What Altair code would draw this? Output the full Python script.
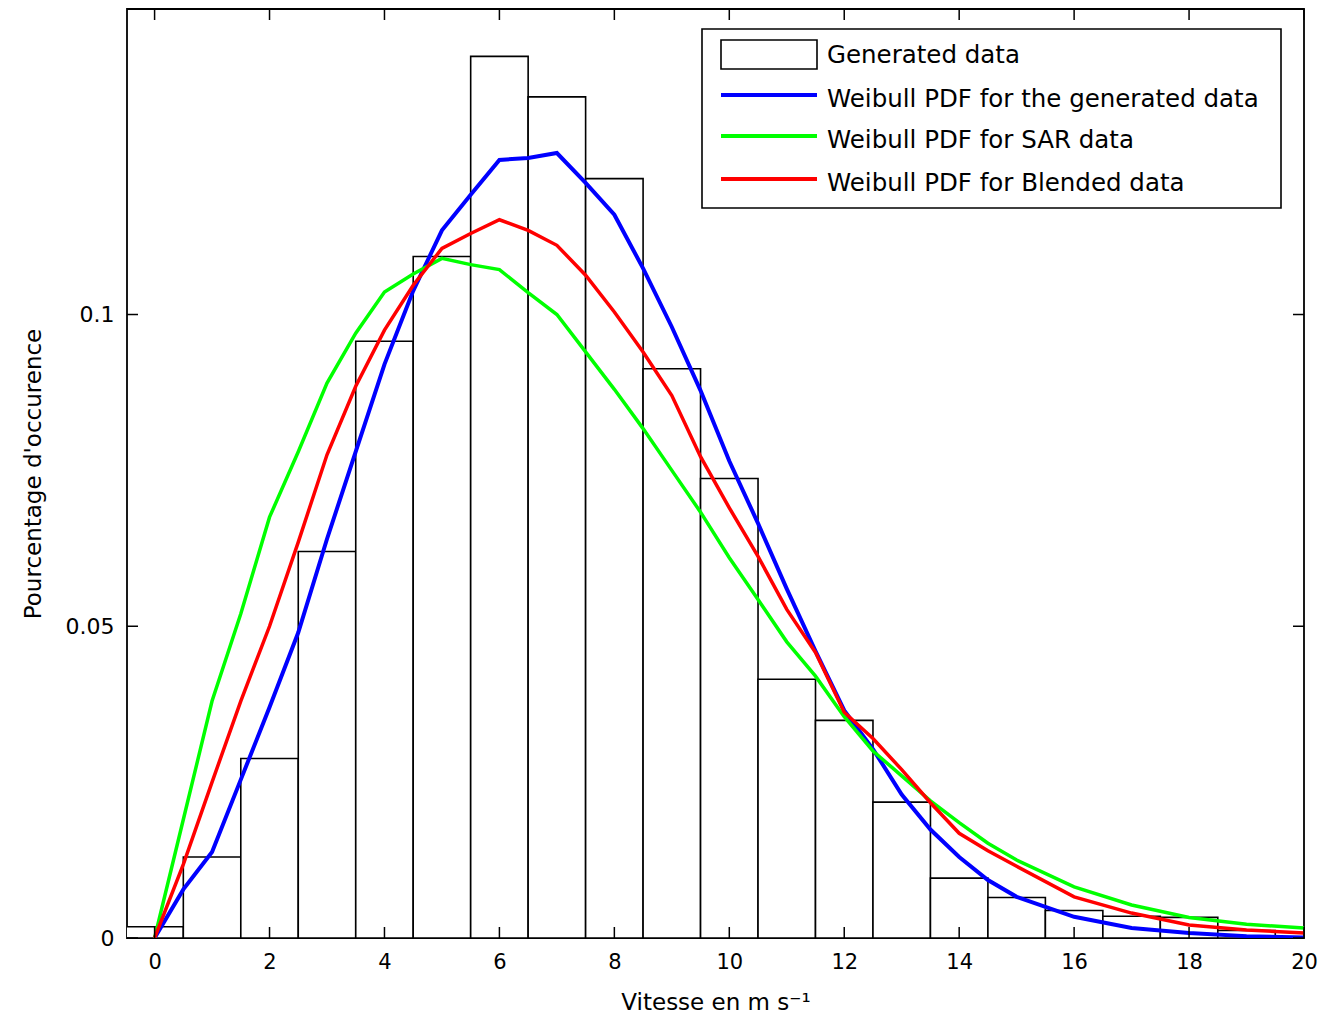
import altair as alt
import pandas as pd

# ---------------- data ----------------
bin_centers = [0, 1, 2, 3, 4, 5, 6, 7, 8, 9, 10, 11, 12, 13, 14, 15, 16, 17, 18, 19]
bin_heights = [0.0018, 0.0130, 0.0288, 0.0620, 0.0957, 0.1093, 0.1414, 0.1349,
               0.1218, 0.0913, 0.0737, 0.0415, 0.0349, 0.0218, 0.0096, 0.0065,
               0.0044, 0.0035, 0.0033, 0.0012]

curve_x = [0, 0.5, 1, 1.5, 2, 2.5, 3, 3.5, 4, 4.5, 5, 5.5, 6, 6.5, 7, 7.5, 8, 8.5,
           9, 9.5, 10, 10.5, 11, 11.5, 12, 12.5, 13, 13.5, 14, 14.5, 15, 16, 17, 18, 19, 20]

blue_y = [0, 0.0078, 0.0138, 0.0254, 0.0370, 0.0490, 0.0640, 0.0780, 0.0920, 0.1038,
          0.1135, 0.1192, 0.1248, 0.1251, 0.1259, 0.1211, 0.1160, 0.1074, 0.0980,
          0.0878, 0.0765, 0.0665, 0.0560, 0.0460, 0.0365, 0.0303, 0.0230, 0.0174,
          0.0130, 0.0093, 0.0066, 0.0034, 0.0016, 0.0008, 0.0003, 0.0001]

green_y = [0, 0.0190, 0.0380, 0.0520, 0.0675, 0.0780, 0.0890, 0.0970, 0.1036, 0.1065,
           0.1090, 0.1080, 0.1072, 0.1035, 0.1000, 0.0940, 0.0880, 0.0817, 0.0750,
           0.0683, 0.0610, 0.0543, 0.0475, 0.0420, 0.0355, 0.0300, 0.0260, 0.0220,
           0.0185, 0.0152, 0.0125, 0.0082, 0.0053, 0.0033, 0.0022, 0.0016]

red_y = [0, 0.0118, 0.0250, 0.0380, 0.0500, 0.0635, 0.0775, 0.0885, 0.0975, 0.1047,
         0.1106, 0.1130, 0.1152, 0.1135, 0.1111, 0.1063, 0.1004, 0.0940, 0.0870,
         0.0772, 0.0690, 0.0612, 0.0527, 0.0458, 0.0362, 0.0320, 0.0270, 0.0217,
         0.0168, 0.0140, 0.0115, 0.0066, 0.0040, 0.0021, 0.0013, 0.0008]

x_ticks = [0, 2, 4, 6, 8, 10, 12, 14, 16, 18, 20]
y_ticks = [0, 0.05, 0.1]

legend_labels = ["Generated data", "Weibull PDF for the generated data",
                 "Weibull PDF for SAR data", "Weibull PDF for Blended data"]

FONT = "DejaVu Sans"
W, H = 1177, 929
XDOM = [-0.48, 20]
YDOM = [0, 0.149]

xs = alt.Scale(domain=XDOM, nice=False, zero=False)
ys = alt.Scale(domain=YDOM, nice=False, zero=True)

bars = pd.DataFrame({
    "left": [c - 0.5 for c in bin_centers],
    "right": [c + 0.5 for c in bin_centers],
    "h": bin_heights,
})

hist = alt.Chart(bars).mark_rect(fill="white", stroke="black", strokeWidth=1.6, clip=True).encode(
    x=alt.X("left:Q", scale=xs,
            axis=alt.Axis(values=x_ticks, title="Vitesse en m s⁻¹", grid=False, ticks=False,
                          domain=False, labelFont=FONT, labelFontSize=21, labelColor="black",
                          labelPadding=13, format="d", titleFont=FONT, titleFontSize=23,
                          titleFontWeight="normal", titleColor="black", titlePadding=19,
                          labelFlush=False)),
    x2="right:Q",
    y=alt.Y("h:Q", scale=ys,
            axis=alt.Axis(values=y_ticks, title="Pourcentage d'occurence", grid=False,
                          ticks=False, domain=False, labelFont=FONT, labelFontSize=22,
                          labelColor="black", labelPadding=13,
                          labelExpr="datum.value == 0 ? '0' : format(datum.value, '.2~f')",
                          titleFont=FONT, titleFontSize=23, titleFontWeight="normal",
                          titleColor="black", titlePadding=20)),
    y2=alt.datum(0),
)


def curve(vals, color, width):
    df = pd.DataFrame({"x": curve_x, "y": vals})
    return alt.Chart(df).mark_line(color=color, strokeWidth=width, clip=True).encode(
        x=alt.X("x:Q", scale=xs), y=alt.Y("y:Q", scale=ys))


blue = curve(blue_y, "#0000ff", 4)
green = curve(green_y, "#00ff00", 3.5)
red = curve(red_y, "#ff0000", 3.5)

xt = pd.DataFrame({"x": x_ticks})
yt = pd.DataFrame({"y": y_ticks})
tick_style = dict(color="black", strokeWidth=1.5)
xt_bot = alt.Chart(xt).mark_rule(**tick_style).encode(
    x=alt.X("x:Q", scale=xs), y=alt.value(H), y2=alt.value(H - 11))
xt_top = alt.Chart(xt).mark_rule(**tick_style).encode(
    x=alt.X("x:Q", scale=xs), y=alt.value(0), y2=alt.value(11))
yt_left = alt.Chart(yt).mark_rule(**tick_style).encode(
    y=alt.Y("y:Q", scale=ys), x=alt.value(0), x2=alt.value(11))
yt_right = alt.Chart(yt).mark_rule(**tick_style).encode(
    y=alt.Y("y:Q", scale=ys), x=alt.value(W), x2=alt.value(W - 11))

# ---------------- legend (drawn in pixel space) ----------------
one = pd.DataFrame({"k": [0]})
leg_box = alt.Chart(one).mark_rect(fill="white", stroke="black", strokeWidth=1.6).encode(
    x=alt.value(575), x2=alt.value(1154), y=alt.value(20), y2=alt.value(199))
leg_rect = alt.Chart(one).mark_rect(fill="white", stroke="black", strokeWidth=1.6).encode(
    x=alt.value(594), x2=alt.value(690), y=alt.value(31), y2=alt.value(60))
leg_lines = []
for yy, col in [(86, "#0000ff"), (127, "#00ff00"), (170, "#ff0000")]:
    leg_lines.append(alt.Chart(one).mark_rule(color=col, strokeWidth=4).encode(
        x=alt.value(594), x2=alt.value(690), y=alt.value(yy)))
leg_texts = []
for yy, lab in zip([47, 91, 132, 175], legend_labels):
    leg_texts.append(alt.Chart(one).mark_text(
        text=lab, align="left", baseline="middle", font=FONT, fontSize=24.5, color="black").encode(
        x=alt.value(700), y=alt.value(yy)))

chart = alt.layer(hist, blue, green, red, xt_bot, xt_top, yt_left, yt_right,
                  leg_box, leg_rect, *leg_lines, *leg_texts).properties(
    width=W, height=H,
    background="white",
    autosize=alt.AutoSizeParams(type="none"),
    padding={"left": 119, "top": 1, "right": 14, "bottom": 78},
).configure_view(stroke="black", strokeWidth=1.8)

chart.save("out.html", embed_options={"renderer": "svg", "actions": False})
